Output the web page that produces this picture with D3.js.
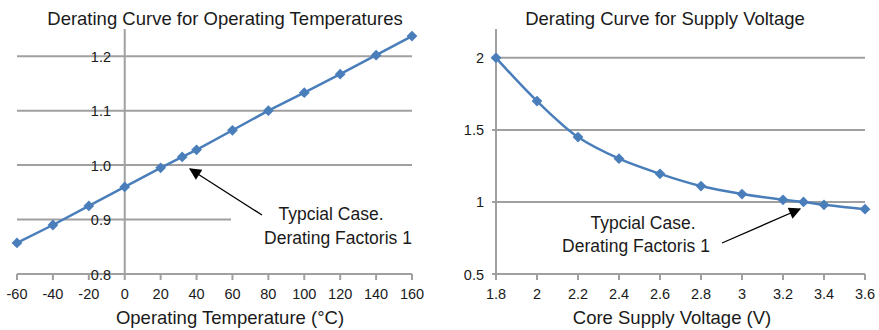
<!DOCTYPE html>
<html>
<head>
<meta charset="utf-8">
<script src="https://cdn.jsdelivr.net/npm/d3@7.9.0/dist/d3.min.js"></script>
<style>
  body { margin: 0; background: #fff; }
  svg { font-family: "Liberation Sans", Arial, sans-serif; }
</style>
</head>
<body>
<svg id="chart" width="879" height="330"></svg>
<script>
// left chart: temperature derating
const tempX = [-60, -40, -20, 0, 20, 32, 40, 60, 80, 100, 120, 140, 160];
const tempY = [0.857, 0.890, 0.925, 0.960, 0.995, 1.015, 1.028, 1.064, 1.100, 1.133, 1.167, 1.202, 1.237];
const tempTicksX = [-60, -40, -20, 0, 20, 40, 60, 80, 100, 120, 140, 160];
const tempTicksY = [0.8, 0.9, 1.0, 1.1, 1.2];

// right chart: supply voltage derating
const voltX = [1.8, 2.0, 2.2, 2.4, 2.6, 2.8, 3.0, 3.2, 3.3, 3.4, 3.6];
const voltY = [2.0, 1.70, 1.45, 1.30, 1.195, 1.11, 1.055, 1.015, 1.0, 0.98, 0.95];
const voltTicksX = [1.8, 2.0, 2.2, 2.4, 2.6, 2.8, 3.0, 3.2, 3.4, 3.6];
const voltTicksY = [0.5, 1, 1.5, 2];

const svg = d3.select('#chart');
const gridColor = '#a0a0a0';
const lineColor = '#4a7ebb';
const textColor = '#1a1a1a';

svg.append('defs').append('marker')
  .attr('id', 'arrow')
  .attr('viewBox', '0 0 10 10')
  .attr('refX', 9).attr('refY', 5)
  .attr('markerWidth', 15).attr('markerHeight', 12)
  .attr('markerUnits', 'userSpaceOnUse')
  .attr('orient', 'auto')
  .append('path').attr('d', 'M0,0 L10,5 L0,10 Z').attr('fill', '#000');

function drawChart(cfg) {
  const g = svg.append('g');
  const x = d3.scaleLinear().domain(cfg.xDomain).range(cfg.xRange);
  const y = d3.scaleLinear().domain(cfg.yDomain).range([274, 29]);
  const x0 = cfg.xRange[0], x1 = cfg.xRange[1];

  // horizontal gridlines
  g.selectAll('.grid').data(cfg.ticksY.filter(d => d !== cfg.yDomain[0]))
    .join('line')
    .attr('x1', x0 - cfg.yTickLen).attr('x2', x1)
    .attr('y1', d => y(d)).attr('y2', d => y(d))
    .attr('stroke', gridColor).attr('stroke-width', 2);

  // x axis line + ticks
  g.append('line').attr('x1', x0 - cfg.yTickLen).attr('x2', x1)
    .attr('y1', y(cfg.yDomain[0])).attr('y2', y(cfg.yDomain[0]))
    .attr('stroke', gridColor).attr('stroke-width', 2);
  g.selectAll('.xtick').data(cfg.ticksX).join('line')
    .attr('x1', d => x(d)).attr('x2', d => x(d))
    .attr('y1', y(cfg.yDomain[0])).attr('y2', y(cfg.yDomain[0]) + 6)
    .attr('stroke', gridColor).attr('stroke-width', 2);

  // vertical axis
  g.append('line').attr('x1', x(cfg.yAxisAt)).attr('x2', x(cfg.yAxisAt))
    .attr('y1', y(cfg.yDomain[1])).attr('y2', y(cfg.yDomain[0]))
    .attr('stroke', gridColor).attr('stroke-width', 2);

  // annotation box (covers gridline)
  g.append('rect').attr('x', cfg.note.box[0]).attr('y', cfg.note.box[1])
    .attr('width', cfg.note.box[2]).attr('height', cfg.note.box[3]).attr('fill', '#fff');

  // tick labels
  g.selectAll('.xlab').data(cfg.ticksX).join('text')
    .attr('x', d => x(d)).attr('y', 299)
    .attr('text-anchor', 'middle').attr('font-size', 14.5).attr('fill', textColor)
    .text(cfg.fmtX);
  g.selectAll('.ylab').data(cfg.ticksY).join('text')
    .attr('x', cfg.yLabelX).attr('y', d => y(d)).attr('dy', '0.38em')
    .attr('text-anchor', 'end').attr('font-size', 14.5).attr('fill', textColor)
    .text(cfg.fmtY);

  // series
  const pts = cfg.xs.map((v, i) => [v, cfg.ys[i]]);
  const line = d3.line().x(d => x(d[0])).y(d => y(d[1])).curve(cfg.curve);
  g.append('path').datum(pts).attr('d', line)
    .attr('fill', 'none').attr('stroke', lineColor).attr('stroke-width', 2.5);
  g.selectAll('.pt').data(pts).join('path')
    .attr('d', d3.symbol(d3.symbolSquare, 58))
    .attr('transform', d => `translate(${x(d[0])},${y(d[1])}) rotate(45)`)
    .attr('fill', lineColor);

  // titles
  g.append('text').attr('x', cfg.titleX).attr('y', 25).attr('text-anchor', 'middle')
    .attr('font-size', 18.5).attr('fill', textColor).text(cfg.title);
  g.append('text').attr('x', cfg.axisTitleX).attr('y', 324).attr('text-anchor', 'middle')
    .attr('font-size', 18.5).attr('fill', textColor).text(cfg.axisTitle);

  // annotation
  cfg.note.lines.forEach((l, i) => {
    g.append('text').attr('x', l.x).attr('y', l.y).attr('text-anchor', 'middle')
      .attr('font-size', 17.5).attr('fill', textColor).text(l.t);
  });
  g.append('line')
    .attr('x1', cfg.note.arrow[0]).attr('y1', cfg.note.arrow[1])
    .attr('x2', cfg.note.arrow[2]).attr('y2', cfg.note.arrow[3])
    .attr('stroke', '#000').attr('stroke-width', 1.3)
    .attr('marker-end', 'url(#arrow)');
}

drawChart({
  xs: tempX, ys: tempY, ticksX: tempTicksX, ticksY: tempTicksY,
  xDomain: [-60, 160], xRange: [17, 412], yDomain: [0.8, 1.25], yAxisAt: 0,
  yTickLen: 0, yLabelX: 111,
  fmtX: d => d, fmtY: d3.format('.1f'),
  curve: d3.curveLinear,
  title: 'Derating Curve for Operating Temperatures', titleX: 225,
  axisTitle: 'Operating Temperature (\u00B0C)', axisTitleX: 230,
  note: {
    box: [231, 196, 185, 52],
    lines: [{ t: 'Typcial Case.', x: 331, y: 220 }, { t: 'Derating Factoris 1', x: 338, y: 244 }],
    arrow: [262, 215, 190, 169]
  }
});

drawChart({
  xs: voltX, ys: voltY, ticksX: voltTicksX, ticksY: voltTicksY,
  xDomain: [1.8, 3.6], xRange: [496, 865], yDomain: [0.5, 2.2], yAxisAt: 1.8,
  yTickLen: 4, yLabelX: 484,
  fmtX: d => +d.toFixed(1), fmtY: d => d,
  curve: d3.curveCatmullRom,
  title: 'Derating Curve for Supply Voltage', titleX: 665,
  axisTitle: 'Core Supply Voltage (V)', axisTitleX: 672,
  note: {
    box: [0, 0, 0, 0],
    lines: [{ t: 'Typcial Case.', x: 643, y: 229 }, { t: 'Derating Factoris 1', x: 636, y: 252 }],
    arrow: [722, 243, 800, 209]
  }
});
</script>
</body>
</html>
